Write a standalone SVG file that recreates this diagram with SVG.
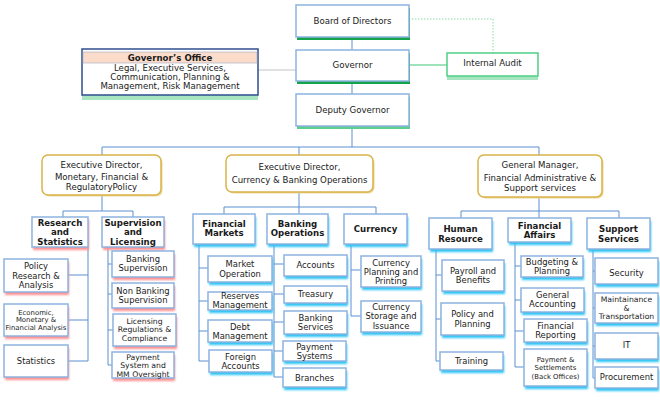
<svg xmlns="http://www.w3.org/2000/svg" width="660" height="402" viewBox="0 0 660 402">
<defs>
<filter id="blur" x="-10%" y="-20%" width="120%" height="150%"><feGaussianBlur stdDeviation="1"/></filter>
<style>
text{font-family:"DejaVu Sans",Verdana,sans-serif;font-size:8.6px;fill:#1a1a1a;text-anchor:middle}
.c{font-size:8.4px}
.s7{font-size:7.7px}
.s6{font-size:6.9px}
.b{font-weight:bold}
.box{fill:#fff;stroke:#8db3df;stroke-width:1.5}
.ed{fill:#fff;stroke:#d9b44a;stroke-width:1.5}
.edsh{fill:#ecd79a}
.shG{fill:#12a44a}
.shLG{fill:#5ccf8c}
.shPG{fill:#a6e5c0}
.shR{fill:#ff8f8f;filter:url(#blur)}
.shB{fill:#2cc4f5;filter:url(#blur)}
.conn{fill:none;stroke:#5b8fcf;stroke-width:1}
</style>
</defs>
<rect width="660" height="402" fill="#fff"/>

<g id="connectors">
<path class="conn" d="M352 37V50M352 81V94M352 126V147M102 147H539M102 147V155M299 147V155M539 147V155"/>
<path d="M258 70H296" stroke="#c4c4c4" stroke-width="1" fill="none"/>
<path d="M409 65H447" stroke="#7fdaa4" stroke-width="1.5" fill="none"/>
<path d="M409 19H493V53" stroke="#8ad9a8" stroke-width="1" stroke-dasharray="1.5,1.5" fill="none"/>
<path class="conn" d="M102 195V211M63 211H133M63 211V217M133 211V217"/>
<path class="conn" d="M299 192V207M224 207H376M224 207V214M299 207V214M376 207V214"/>
<path class="conn" d="M539 197V211M461 211H619M461 211V218M539 211V218M619 211V218"/>
<path class="conn" d="M88 247V361M68 275H88M68 320H88M68 361H88"/>
<path class="conn" d="M108 247V365M108 264H112M108 294H112M108 330H113M108 365H112"/>
<path class="conn" d="M199 244V361M199 268H208M199 301H208M199 331H208M199 361H209"/>
<path class="conn" d="M274 244V377M274 264H284M274 294H284M274 322H284M274 351H283M274 377H283"/>
<path class="conn" d="M351 244V316M351 270H361M351 316H361"/>
<path class="conn" d="M436 249V361M436 275H442M436 319H441M436 361H440"/>
<path class="conn" d="M515 242V367M515 266H521M515 300H521M515 331H524M515 367H524"/>
<path class="conn" d="M593 249V378M593 271H595M593 308H595M593 346H595M593 378H595"/>
</g>

<g id="board">
<rect class="shG" x="297" y="8" width="113" height="32"/>
<rect class="box" x="296" y="5" width="113" height="32"/>
<text x="352.5" y="24">Board of Directors</text>
</g>
<g id="governor">
<rect class="shG" x="297" y="53" width="113" height="31"/>
<rect class="box" x="296" y="50" width="113" height="31"/>
<text x="352.5" y="68">Governor</text>
</g>
<g id="deputy">
<rect class="shLG" x="297" y="97" width="113" height="32"/>
<rect class="box" x="296" y="94" width="113" height="32"/>
<text x="352.5" y="113">Deputy Governor</text>
</g>
<g id="audit">
<rect class="shPG" x="447" y="57" width="91" height="23"/>
<rect x="447" y="53" width="91" height="23" fill="#fff" stroke="#4fcf87" stroke-width="1.5"/>
<text x="492.5" y="66">Internal Audit</text>
</g>
<g id="govoffice">
<rect class="shPG" x="82" y="95" width="176" height="5"/>
<rect x="82" y="49" width="176" height="46" fill="#fff" stroke="#2f4d8e" stroke-width="1.5"/>
<rect x="83" y="52" width="174" height="11" fill="#fbdccb" stroke="#a0a8bc" stroke-width="0.6"/>
<text class="b" x="170" y="61">Governor’s Office</text>
<text x="170" y="71">Legal, Executive Services,</text>
<text x="170" y="80">Communication, Planning &amp;</text>
<text x="170" y="88.5">Management, Risk Management</text>
</g>

<g id="ed1">
<rect class="edsh" x="43.5" y="156.5" width="119" height="40" rx="6"/>
<rect class="ed" x="42" y="155" width="119" height="40" rx="6"/>
<text x="101.5" y="167.5">Executive Director,</text>
<text x="101.5" y="180">Monetary, Financial &amp;</text>
<text x="101.5" y="190">RegulatoryPolicy</text>
</g>
<g id="ed2">
<rect class="edsh" x="227.5" y="156.5" width="147" height="37" rx="6"/>
<rect class="ed" x="226" y="155" width="147" height="37" rx="6"/>
<text x="299.5" y="170">Executive Director,</text>
<text x="299.5" y="183">Currency &amp; Banking Operations</text>
</g>
<g id="ed3">
<rect class="edsh" x="479.5" y="156.5" width="124" height="42" rx="6"/>
<rect class="ed" x="478" y="155" width="124" height="42" rx="6"/>
<text x="540" y="168">General Manager,</text>
<text x="540" y="181">Financial Administrative &amp;</text>
<text x="540" y="191">Support services</text>
</g>

<g id="research">
<rect class="shR" x="33" y="220" width="56" height="30"/>
<rect class="box" x="32" y="217" width="56" height="30"/>
<text class="b" x="60" y="226">Research</text>
<text class="b" x="60" y="235">and</text>
<text class="b" x="60" y="244.5">Statistics</text>
</g>
<g id="supervision">
<rect class="shR" x="103" y="220" width="62" height="30"/>
<rect class="box" x="102" y="217" width="62" height="30"/>
<text class="b" x="133" y="226">Supervision</text>
<text class="b" x="133" y="235">and</text>
<text class="b" x="133" y="244.5">Licensing</text>
</g>
<g id="finmarkets">
<rect class="shB" x="194" y="217" width="62" height="30"/>
<rect class="box" x="193" y="214" width="62" height="30"/>
<text class="b" x="224" y="226.5">Financial</text>
<text class="b" x="224" y="236">Markets</text>
</g>
<g id="bankops">
<rect class="shB" x="268" y="217" width="61" height="30"/>
<rect class="box" x="267" y="214" width="61" height="30"/>
<text class="b" x="297.5" y="226.5">Banking</text>
<text class="b" x="297.5" y="236">Operations</text>
</g>
<g id="currency">
<rect class="shB" x="345" y="217" width="63" height="30"/>
<rect class="box" x="344" y="214" width="63" height="30"/>
<text class="b" x="375.5" y="232">Currency</text>
</g>
<g id="hr">
<rect class="shB" x="430" y="221" width="63" height="31"/>
<rect class="box" x="429" y="218" width="63" height="31"/>
<text class="b" x="460.5" y="232">Human</text>
<text class="b" x="460.5" y="241.5">Resource</text>
</g>
<g id="finaffairs">
<rect class="shB" x="509" y="221" width="63" height="24"/>
<rect class="box" x="508" y="218" width="63" height="24"/>
<text class="b" x="539.5" y="229">Financial</text>
<text class="b" x="539.5" y="238">Affairs</text>
</g>
<g id="support">
<rect class="shB" x="588" y="221" width="63" height="31"/>
<rect class="box" x="587" y="218" width="63" height="31"/>
<text class="b" x="618.5" y="232">Support</text>
<text class="b" x="618.5" y="241.5">Services</text>
</g>

<g id="policyresearch">
<rect class="shR" x="5" y="262" width="64" height="33"/>
<rect class="box" x="4" y="259" width="64" height="33"/>
<text class="c" x="36" y="269">Policy</text>
<text class="c" x="36" y="278.5">Research &amp;</text>
<text class="c" x="36" y="288">Analysis</text>
</g>
<g id="econ">
<rect class="shR" x="5" y="307" width="64" height="32"/>
<rect class="box" x="4" y="304" width="64" height="32"/>
<text class="s6" x="36" y="314.7">Economic,</text>
<text class="s6" x="36" y="322.4">Monetary &amp;</text>
<text class="s6" x="36" y="330">Financial Analysis</text>
</g>
<g id="statistics">
<rect class="shR" x="5" y="348" width="64" height="32"/>
<rect class="box" x="4" y="345" width="64" height="32"/>
<text class="c" x="36" y="364">Statistics</text>
</g>

<g id="banksup">
<rect class="shR" x="113" y="254" width="62" height="26"/>
<rect class="box" x="112" y="251" width="62" height="26"/>
<text class="c" x="143" y="261.8">Banking</text>
<text class="c" x="143" y="271.4">Supervision</text>
</g>
<g id="nonbanksup">
<rect class="shR" x="113" y="286" width="62" height="25"/>
<rect class="box" x="112" y="283" width="62" height="25"/>
<text class="c" x="143" y="293.8">Non Banking</text>
<text class="c" x="143" y="303">Supervision</text>
</g>
<g id="licensing">
<rect class="shR" x="114" y="317" width="63" height="32"/>
<rect class="box" x="113" y="314" width="63" height="32"/>
<text class="s7" x="144.5" y="323.8">Licensing</text>
<text class="s7" x="144.5" y="332">Regulations &amp;</text>
<text class="s7" x="144.5" y="340.7">Compliance</text>
</g>
<g id="paymentsys">
<rect class="shR" x="113" y="355" width="62" height="26"/>
<rect class="box" x="112" y="352" width="62" height="26"/>
<text class="s7" x="143" y="359.8">Payment</text>
<text class="s7" x="143" y="368">System and</text>
<text class="s7" x="143" y="376.8">MM Oversight</text>
</g>

<g id="marketop">
<rect class="shB" x="209" y="259" width="64" height="26"/>
<rect class="box" x="208" y="256" width="64" height="26"/>
<text class="c" x="240" y="267">Market</text>
<text class="c" x="240" y="277">Operation</text>
</g>
<g id="reserves">
<rect class="shB" x="209" y="295" width="64" height="18"/>
<rect class="box" x="208" y="292" width="64" height="18"/>
<text class="c" x="240" y="299">Reserves</text>
<text class="c" x="240" y="308.3">Management</text>
</g>
<g id="debt">
<rect class="shB" x="209" y="323" width="64" height="22"/>
<rect class="box" x="208" y="320" width="64" height="22"/>
<text class="c" x="240" y="329.7">Debt</text>
<text class="c" x="240" y="339">Management</text>
</g>
<g id="foreign">
<rect class="shB" x="210" y="353" width="63" height="22"/>
<rect class="box" x="209" y="350" width="63" height="22"/>
<text class="c" x="240.5" y="359.7">Foreign</text>
<text class="c" x="240.5" y="369">Accounts</text>
</g>

<g id="accounts">
<rect class="shB" x="285" y="258" width="63" height="21"/>
<rect class="box" x="284" y="255" width="63" height="21"/>
<text class="c" x="315.5" y="268">Accounts</text>
</g>
<g id="treasury">
<rect class="shB" x="285" y="289" width="63" height="17"/>
<rect class="box" x="284" y="286" width="63" height="17"/>
<text class="c" x="315.5" y="297">Treasury</text>
</g>
<g id="bankservices">
<rect class="shB" x="285" y="314" width="63" height="23"/>
<rect class="box" x="284" y="311" width="63" height="23"/>
<text class="c" x="315.5" y="320.7">Banking</text>
<text class="c" x="315.5" y="330.3">Services</text>
</g>
<g id="paymentsystems">
<rect class="shB" x="284" y="344" width="63" height="20"/>
<rect class="box" x="283" y="341" width="63" height="20"/>
<text class="c" x="314.5" y="349.7">Payment</text>
<text class="c" x="314.5" y="359">Systems</text>
</g>
<g id="branches">
<rect class="shB" x="284" y="371" width="63" height="19"/>
<rect class="box" x="283" y="368" width="63" height="19"/>
<text class="c" x="314.5" y="381.3">Branches</text>
</g>

<g id="curplanning">
<rect class="shB" x="362" y="259" width="60" height="31"/>
<rect class="box" x="361" y="256" width="60" height="31"/>
<text class="c" x="391" y="265.7">Currency</text>
<text class="c" x="391" y="275.3">Planning and</text>
<text class="c" x="391" y="284">Printing</text>
</g>
<g id="curstorage">
<rect class="shB" x="362" y="304" width="60" height="31"/>
<rect class="box" x="361" y="301" width="60" height="31"/>
<text class="c" x="391" y="309.7">Currency</text>
<text class="c" x="391" y="319">Storage and</text>
<text class="c" x="391" y="328.7">Issuance</text>
</g>

<g id="payroll">
<rect class="shB" x="443" y="263" width="62" height="31"/>
<rect class="box" x="442" y="260" width="62" height="31"/>
<text class="c" x="473" y="274">Payroll and</text>
<text class="c" x="473" y="283">Benefits</text>
</g>
<g id="policyplanning">
<rect class="shB" x="442" y="306" width="63" height="32"/>
<rect class="box" x="441" y="303" width="63" height="32"/>
<text class="c" x="472.5" y="317.3">Policy and</text>
<text class="c" x="472.5" y="327">Planning</text>
</g>
<g id="training">
<rect class="shB" x="441" y="355" width="63" height="18"/>
<rect class="box" x="440" y="352" width="63" height="18"/>
<text class="c" x="471.5" y="363.7">Training</text>
</g>

<g id="budgeting">
<rect class="shB" x="522" y="259" width="62" height="21"/>
<rect class="box" x="521" y="256" width="62" height="21"/>
<text class="c" x="552" y="264.7">Budgeting &amp;</text>
<text class="c" x="552" y="274">Planning</text>
</g>
<g id="genaccounting">
<rect class="shB" x="522" y="291" width="63" height="24"/>
<rect class="box" x="521" y="288" width="63" height="24"/>
<text class="c" x="552.5" y="298">General</text>
<text class="c" x="552.5" y="307">Accounting</text>
</g>
<g id="finreporting">
<rect class="shB" x="525" y="322" width="63" height="23"/>
<rect class="box" x="524" y="319" width="63" height="23"/>
<text class="c" x="555.5" y="328.7">Financial</text>
<text class="c" x="555.5" y="338">Reporting</text>
</g>
<g id="settlements">
<rect class="shB" x="525" y="352" width="63" height="37"/>
<rect class="box" x="524" y="349" width="63" height="37"/>
<text class="s6" x="555.5" y="361.8">Payment &amp;</text>
<text class="s6" x="555.5" y="370.2">Settlements</text>
<text class="s6" x="555.5" y="378.8">(Back Offices)</text>
</g>

<g id="security">
<rect class="shB" x="596" y="261" width="63" height="26"/>
<rect class="box" x="595" y="258" width="63" height="26"/>
<text class="c" x="626.5" y="275.7">Security</text>
</g>
<g id="maintenance">
<rect class="shB" x="596" y="296" width="63" height="30"/>
<rect class="box" x="595" y="293" width="63" height="30"/>
<text class="s7" x="626.5" y="301.8">Maintainance</text>
<text class="s7" x="626.5" y="310.5">&amp;</text>
<text class="s7" x="626.5" y="318.8">Transportation</text>
</g>
<g id="it">
<rect class="shB" x="596" y="336" width="63" height="26"/>
<rect class="box" x="595" y="333" width="63" height="26"/>
<text class="c" x="626.5" y="348.3">IT</text>
</g>
<g id="procurement">
<rect class="shB" x="596" y="370" width="63" height="21"/>
<rect class="box" x="595" y="367" width="63" height="21"/>
<text class="c" x="626.5" y="380.3">Procurement</text>
</g>
</svg>
